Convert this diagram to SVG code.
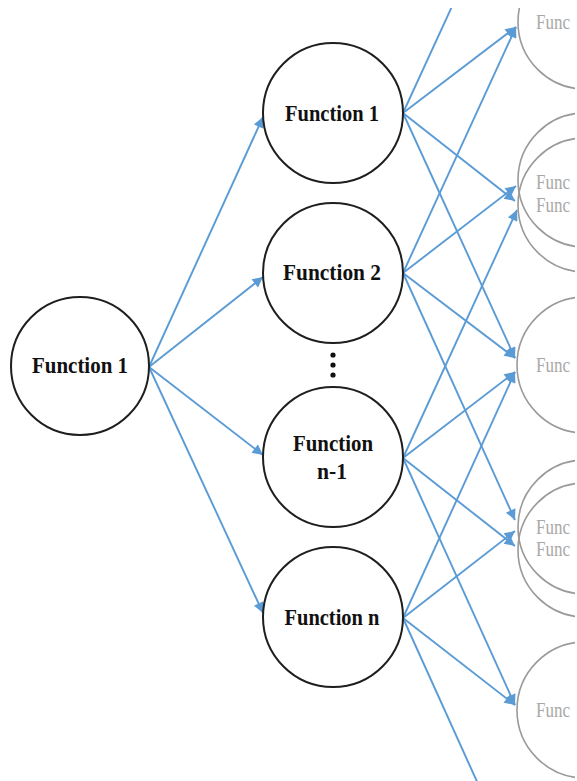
<svg xmlns="http://www.w3.org/2000/svg" width="577" height="781" viewBox="0 0 577 781">
  <style>
    .node { fill: #ffffff; stroke: #1e1e1e; stroke-width: 2; }
    .ghost { fill: none; stroke: #9a9a9a; stroke-width: 1.6; }
    .label { font-family: "Liberation Serif", "Times New Roman", serif; font-weight: bold; font-size: 23px; fill: #111111; text-anchor: middle; }
    .glabel { font-family: "Liberation Serif", "Times New Roman", serif; font-size: 21px; fill: #a8a8a8; }
    .edge { fill: none; stroke: #5b9bd5; stroke-width: 1.9; }
    .edge-a { marker-end: url(#head); }
  </style>
  <defs>
    <marker id="head" viewBox="0 0 10 10" refX="10" refY="5" markerWidth="7.5" markerHeight="5.5" orient="auto">
      <path d="M0,0 L10,5 L0,10 Z" fill="#5b9bd5"/>
    </marker>
    <clipPath id="frame">
      <rect x="0" y="8" width="575" height="773"/>
    </clipPath>
  </defs>
  <rect width="577" height="781" fill="#ffffff"/>

  <g clip-path="url(#frame)">
    <!-- connectors -->
    <g id="connectors">
      <!-- root to first layer -->
      <line class="edge edge-a" x1="149" y1="367" x2="263" y2="117"/>
      <line class="edge edge-a" x1="149" y1="367" x2="263" y2="277"/>
      <line class="edge edge-a" x1="149" y1="367" x2="263" y2="455"/>
      <line class="edge edge-a" x1="149" y1="367" x2="263" y2="613"/>
      <!-- from Function 1 -->
      <line class="edge" x1="403" y1="113" x2="517" y2="-135"/>
      <line class="edge edge-a" x1="403" y1="113" x2="516" y2="27"/>
      <line class="edge edge-a" x1="403" y1="113" x2="515" y2="201"/>
      <line class="edge edge-a" x1="403" y1="113" x2="515" y2="358"/>
      <!-- from Function 2 -->
      <line class="edge edge-a" x1="403" y1="273" x2="516" y2="27"/>
      <line class="edge edge-a" x1="403" y1="273" x2="516" y2="186"/>
      <line class="edge edge-a" x1="403" y1="273" x2="515" y2="358"/>
      <line class="edge edge-a" x1="403" y1="273" x2="515" y2="520"/>
      <!-- from Function n-1 -->
      <line class="edge edge-a" x1="403" y1="458" x2="517" y2="210"/>
      <line class="edge edge-a" x1="403" y1="458" x2="515" y2="372"/>
      <line class="edge edge-a" x1="403" y1="458" x2="515" y2="546"/>
      <line class="edge edge-a" x1="403" y1="458" x2="515" y2="705"/>
      <!-- from Function n -->
      <line class="edge edge-a" x1="403" y1="618" x2="515" y2="372"/>
      <line class="edge edge-a" x1="403" y1="618" x2="515" y2="531"/>
      <line class="edge edge-a" x1="403" y1="618" x2="515" y2="705"/>
      <line class="edge" x1="403" y1="618" x2="517" y2="870"/>
    </g>

    <!-- second layer outlines, running past the right edge -->
    <g id="g0-ring"><circle class="ghost" cx="585" cy="22" r="67"/></g>
    <g id="g1-ring">
      <circle class="ghost" cx="585" cy="180" r="67"/>
      <circle class="ghost" cx="585" cy="205" r="67"/>
    </g>
    <g id="g2-ring"><circle class="ghost" cx="585" cy="365" r="68"/></g>
    <g id="g3-ring">
      <circle class="ghost" cx="585" cy="527" r="67"/>
      <circle class="ghost" cx="585" cy="550" r="67"/>
    </g>
    <g id="g4-ring"><circle class="ghost" cx="585" cy="710" r="68"/></g>
  </g>

  <!-- root node -->
  <g id="root">
    <circle class="node" cx="80" cy="366" r="69"/>
    <text class="label" x="80" y="373" textLength="96" lengthAdjust="spacingAndGlyphs">Function 1</text>
  </g>

  <!-- first layer -->
  <g id="f1">
    <circle class="node" cx="333" cy="113" r="70"/>
    <text class="label" x="332" y="121" textLength="94" lengthAdjust="spacingAndGlyphs">Function 1</text>
  </g>
  <g id="f2">
    <circle class="node" cx="333" cy="273" r="70"/>
    <text class="label" x="332" y="280" textLength="98" lengthAdjust="spacingAndGlyphs">Function 2</text>
  </g>
  <g id="ellipsis">
    <circle cx="333" cy="355" r="2.6" fill="#111111"/>
    <circle cx="333" cy="365" r="2.6" fill="#111111"/>
    <circle cx="333" cy="375" r="2.6" fill="#111111"/>
  </g>
  <g id="fn1">
    <circle class="node" cx="333" cy="457" r="70"/>
    <text class="label" x="333" y="451" textLength="80" lengthAdjust="spacingAndGlyphs">Function</text>
    <text class="label" x="332" y="479" textLength="30" lengthAdjust="spacingAndGlyphs">n-1</text>
  </g>
  <g id="fn">
    <circle class="node" cx="333" cy="617" r="70"/>
    <text class="label" x="332" y="625" textLength="95" lengthAdjust="spacingAndGlyphs">Function n</text>
  </g>

  <!-- second layer labels -->
  <g id="g0"><text class="glabel" x="536" y="29" textLength="34" lengthAdjust="spacingAndGlyphs">Func</text></g>
  <g id="g1">
    <text class="glabel" x="536" y="189" textLength="34" lengthAdjust="spacingAndGlyphs">Func</text>
    <text class="glabel" x="536" y="212" textLength="34" lengthAdjust="spacingAndGlyphs">Func</text>
  </g>
  <g id="g2"><text class="glabel" x="536" y="372" textLength="34" lengthAdjust="spacingAndGlyphs">Func</text></g>
  <g id="g3">
    <text class="glabel" x="536" y="534" textLength="34" lengthAdjust="spacingAndGlyphs">Func</text>
    <text class="glabel" x="536" y="556" textLength="34" lengthAdjust="spacingAndGlyphs">Func</text>
  </g>
  <g id="g4"><text class="glabel" x="536" y="717" textLength="34" lengthAdjust="spacingAndGlyphs">Func</text></g>
</svg>
